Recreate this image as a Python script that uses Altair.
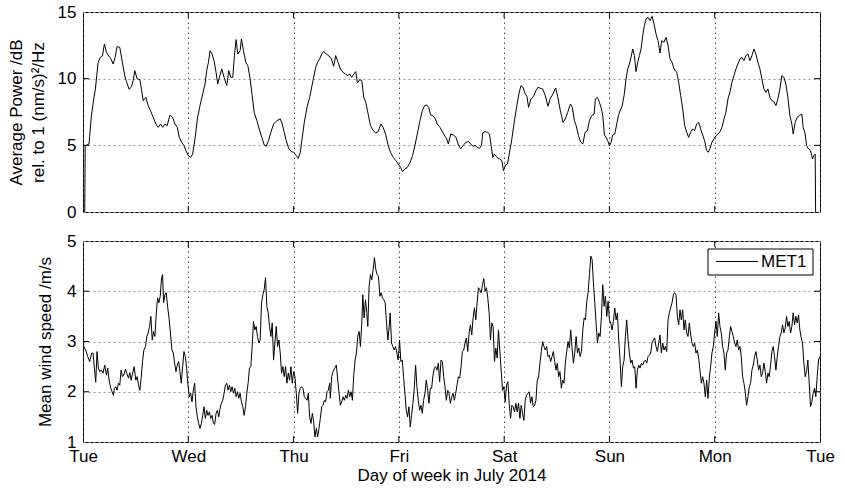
import altair as alt
import pandas as pd

# ---- axis categories -------------------------------------------------------
day_labels = ["Tue", "Wed", "Thu", "Fri", "Sat", "Sun", "Mon", "Tue"]
day_ticks = [0, 24, 48, 72, 96, 120, 144, 168]          # hours since Tue 00:00
power_ticks = [0, 5, 10, 15]
wind_ticks = [1, 2, 3, 4, 5]

# ---- seismic average power (dB rel. 1 (nm/s)^2/Hz) -------------------------
power_hours = [
    0.40, 0.50, 1.37, 1.91, 2.44, 2.82, 3.43, 3.96, 4.42, 4.88,
    5.34, 5.87, 6.33, 6.86, 7.32, 7.77, 8.38, 8.99, 9.53, 9.91,
    10.52, 11.05, 11.43, 11.81, 12.35, 12.96, 13.34, 13.72, 14.33, 14.86,
    15.39, 16.0, 16.61, 17.15, 17.68, 18.14, 18.67, 19.2, 19.81, 20.42,
    20.96, 21.49, 21.95, 22.48, 23.01, 23.47, 24.0, 24.54, 25.0, 25.53,
    26.06, 26.67, 27.28, 27.82, 28.2, 28.58, 28.96, 29.42, 29.87, 30.33,
    30.71, 31.09, 31.63, 32.16, 32.77, 33.23, 33.68, 34.14, 34.52, 34.9,
    35.28, 35.82, 36.12, 36.58, 37.11, 37.57, 38.1, 38.56, 39.02, 39.63,
    40.16, 40.77, 41.3, 41.76, 42.29, 42.83, 43.44, 44.2, 44.96, 45.42,
    45.87, 46.33, 46.87, 47.47, 48.0, 48.62, 49.07, 49.53, 49.99, 50.45,
    51.06, 51.67, 52.2, 52.58, 53.04, 53.49, 53.95, 54.41, 54.87, 55.48,
    56.08, 56.61, 57.15, 57.6, 58.14, 58.67, 59.28, 59.81, 60.35, 60.8,
    61.26, 61.72, 62.18, 62.56, 63.09, 63.55, 64.0, 64.46, 65.0, 65.53,
    66.14, 66.75, 67.28, 67.89, 68.42, 69.03, 69.57, 70.1, 70.71, 71.32,
    71.85, 72.39, 72.84, 73.38, 73.91, 74.52, 75.13, 75.66, 76.2, 76.81,
    77.34, 77.87, 78.33, 78.79, 79.24, 79.7, 80.24, 80.77, 81.38, 81.99,
    82.52, 82.9, 83.28, 83.82, 84.43, 85.04, 85.57, 86.1, 86.71, 87.32,
    87.93, 88.39, 88.85, 89.38, 89.91, 90.37, 90.83, 91.13, 91.67, 92.2,
    92.66, 93.04, 93.42, 93.8, 94.33, 94.94, 95.48, 95.86, 96.31, 96.77,
    97.23, 97.76, 98.29, 98.9, 99.36, 99.82, 100.28, 100.81, 101.19, 101.57,
    102.1, 102.71, 103.25, 103.7, 104.24, 104.77, 105.38, 105.99, 106.52, 107.13,
    107.74, 108.2, 108.81, 109.42, 109.95, 110.49, 111.1, 111.55, 112.01,
    112.41, 112.94, 113.47, 113.93, 114.46, 114.99, 115.44, 115.97, 116.51, 116.81,
    117.26, 117.72, 118.18, 118.48, 118.86, 119.24, 119.62, 120.0, 120.38, 120.76,
    121.21, 121.67, 122.05, 122.43, 122.88, 123.34, 123.79, 124.17, 124.55, 124.93,
    125.31, 125.69, 126.07, 126.45, 126.83, 127.21, 127.59, 127.97, 128.35, 128.8,
    129.26, 129.71, 130.17, 130.62, 131.08, 131.53, 131.91, 132.44, 132.9, 133.36,
    133.81, 134.27, 134.72, 135.33, 135.78, 136.24, 136.7, 137.15, 137.61, 138.06,
    138.52, 138.97, 139.43, 139.88, 140.34, 140.79, 141.25, 141.7, 142.16, 142.54,
    142.92, 143.37, 143.83, 144.29, 144.74, 145.2, 145.65, 146.11, 146.56, 147.02,
    147.47, 147.93, 148.38, 148.84, 149.29, 149.75, 150.21, 150.66, 151.12, 151.57,
    152.03, 152.48, 152.94, 153.39, 153.85, 154.3, 154.76, 155.21, 155.67, 156.13,
    156.58, 157.04, 157.49, 157.95, 158.4, 158.86, 159.31, 159.77, 160.22, 160.68,
    161.14, 161.59, 161.89, 162.35, 162.8, 163.26, 163.87, 164.17, 164.63, 164.93,
    165.39, 165.84, 166.3, 166.6, 166.9, 167.0,
]
power_db = [
    0.0, 4.95, 5.1, 7.2, 8.47, 9.2, 11.2, 11.6, 11.7, 12.6,
    11.98, 11.7, 11.5, 11.1, 11.6, 12.4, 12.35, 11.2, 10.2, 9.78,
    9.2, 9.4, 9.85, 10.6, 9.98, 9.93, 9.2, 8.35, 8.6, 7.98,
    7.6, 7.1, 6.6, 6.35, 6.6, 6.35, 6.6, 6.48, 7.27, 7.1,
    6.6, 6.35, 5.6, 5.23, 4.98, 4.6, 4.23, 4.1, 4.35, 5.48,
    6.98, 7.98, 8.85, 9.6, 10.6, 11.2, 12.1, 11.85, 11.35, 10.48,
    9.6, 10.1, 10.73, 10.1, 9.48, 10.6, 10.1, 10.1, 11.73, 12.93,
    11.85, 12.1, 12.98, 12.1, 11.23, 10.98, 9.98, 8.73, 7.48, 6.85,
    6.23, 5.6, 5.03, 4.93, 5.35, 5.98, 6.6, 6.85, 6.98, 6.6,
    5.98, 5.35, 4.78, 4.53, 4.48, 4.23, 4.03, 4.48, 5.6, 6.73,
    7.85, 8.6, 9.48, 10.1, 10.85, 11.23, 11.48, 11.85, 12.03, 11.85,
    11.7, 11.48, 10.93, 11.73, 11.23, 10.73, 10.48, 10.35, 10.23, 10.35,
    10.1, 10.35, 10.53, 9.68, 9.93, 9.85, 8.6, 8.23, 7.35, 6.48,
    6.1, 5.93, 6.03, 6.6, 6.35, 5.78, 4.98, 4.48, 4.1, 3.85,
    3.6, 3.35, 3.03, 3.23, 3.35, 3.68, 4.23, 4.98, 5.85, 6.85,
    7.6, 7.98, 8.03, 7.85, 7.28, 7.23, 7.03, 6.6, 6.35, 5.98,
    5.68, 5.48, 5.1, 5.85, 5.78, 5.6, 5.03, 4.73, 5.03, 5.23,
    5.28, 5.1, 4.93, 4.98, 4.85, 4.78, 4.98, 5.93, 6.03, 5.98,
    5.85, 4.98, 4.1, 4.35, 4.1, 3.98, 3.85, 3.1, 3.53, 3.6,
    4.48, 5.48, 6.73, 7.98, 8.85, 9.48, 9.35, 8.85, 8.68, 7.85,
    8.48, 8.68, 9.1, 9.35, 9.28, 9.23, 8.73, 7.93, 8.53, 8.85,
    9.3, 8.68, 7.6, 6.73, 6.98, 7.48, 8.1, 7.85, 6.85,
    6.48, 5.73, 5.23, 5.1, 5.98, 6.1, 6.85, 7.23, 7.35, 8.48,
    8.6, 8.23, 7.73, 7.23, 5.78, 5.6, 5.35, 4.98, 5.23, 5.78,
    5.85, 6.6, 7.23, 7.6, 7.93, 8.73, 9.98, 10.73, 11.1, 11.6,
    12.23, 11.73, 10.53, 11.23, 11.73, 12.23, 13.23, 13.98, 14.48, 14.6,
    14.35, 14.68, 14.1, 13.35, 12.85, 11.93, 12.85, 12.73, 13.1, 12.48,
    11.48, 11.23, 10.73, 10.48, 9.73, 8.73, 7.73, 6.48, 5.98, 5.6,
    5.98, 6.23, 6.1, 6.6, 6.73, 6.23, 5.78, 5.35, 4.6, 4.48,
    4.78, 5.23, 5.48, 5.73, 5.85, 6.03, 6.35, 6.98, 7.48, 8.48,
    8.98, 9.73, 10.23, 10.73, 11.1, 11.48, 11.6, 11.35, 11.73, 11.85,
    11.35, 11.73, 12.23, 11.85, 11.23, 10.73, 9.98, 9.23, 8.98, 9.23,
    8.6, 8.35, 8.28, 7.98, 8.48, 9.23, 10.23, 10.1, 9.6, 8.6,
    7.23, 6.6, 5.85, 6.73, 7.1, 7.23, 7.35, 6.35, 5.85, 4.98,
    4.73, 4.6, 3.98, 4.23, 4.35, 0.0,
]

# ---- mean wind speed at MET1 (m/s) -----------------------------------------
wind_hours = [
    0.0, 0.15, 0.61, 1.07, 1.53, 1.98, 2.29, 2.59, 2.9, 3.2,
    3.51, 3.81, 4.19, 4.57, 4.96, 5.34, 5.64, 5.95, 6.33, 6.63,
    6.94, 7.16, 7.47, 7.77, 8.08, 8.38, 8.69, 8.99, 9.3, 9.68,
    9.98, 10.37, 10.67, 10.97, 11.28, 11.66, 12.04, 12.35, 12.65, 12.96,
    13.26, 13.57, 13.87, 14.25, 14.56, 14.86, 15.17, 15.47, 15.78, 16.08,
    16.39, 16.69, 17.0, 17.3, 17.6, 17.91, 18.14, 18.37, 18.67, 18.98,
    19.28, 19.66, 19.97, 20.27, 20.58, 20.88, 21.19, 21.49, 21.8, 22.1,
    22.4, 22.71, 23.01, 23.32, 23.62, 23.93, 24.23, 24.54, 24.84, 25.15,
    25.45, 25.76, 26.06, 26.37, 26.67, 26.98, 27.28, 27.59, 27.89, 28.2,
    28.5, 28.81, 29.11, 29.42, 29.72, 30.02, 30.33, 30.63, 30.94, 31.24,
    31.55, 31.85, 32.16, 32.46, 32.77, 33.07, 33.38, 33.68, 33.99, 34.29,
    34.6, 34.9, 35.21, 35.51, 35.82, 36.12, 36.43, 36.73, 37.04, 37.34,
    37.64, 37.95, 38.25, 38.56, 38.86, 39.17, 39.47, 39.78, 40.08, 40.39,
    40.69, 41.0, 41.3, 41.61, 41.91, 42.22, 42.52, 42.83, 43.13, 43.44,
    43.74, 44.05, 44.35, 44.66, 44.96, 45.26, 45.57, 45.87, 46.18, 46.48,
    46.79, 47.09, 47.4, 47.7, 48.01, 48.31, 48.62, 48.92, 49.23, 49.53,
    49.84, 50.14, 50.45, 50.75, 51.06, 51.36, 51.67, 51.97, 52.28, 52.58,
    52.88, 53.19, 53.49, 53.8, 54.1, 54.41, 54.71, 55.02, 55.32, 55.63,
    55.93, 56.24,
    56.38, 56.69, 56.99, 57.38, 57.76, 58.06, 58.37, 58.67, 58.98, 59.28,
    59.58, 59.89, 60.19, 60.5, 60.8, 61.11, 61.41, 61.72, 62.02, 62.33,
    62.63, 62.94, 63.24, 63.55, 63.78, 64.08, 64.39, 64.69, 64.92, 65.22,
    65.53, 65.83, 66.14, 66.44, 66.75, 67.05, 67.36, 67.66, 67.97, 68.27,
    68.58, 68.88, 69.19, 69.49, 69.8, 70.02, 70.33, 70.63, 70.94, 71.24,
    71.55, 71.85, 72.16, 72.46, 72.77, 73.07, 73.38, 73.68, 73.99, 74.29,
    74.6, 74.9, 75.21, 75.51, 75.82, 76.12, 76.43, 76.73, 77.03, 77.34,
    77.64, 77.95, 78.25, 78.56, 78.86, 79.17, 79.47, 79.78, 80.08, 80.39,
    80.69, 81.0, 81.3, 81.61, 81.91, 82.22, 82.52, 82.83, 83.13, 83.44,
    83.74, 84.05, 84.35, 84.65, 84.96, 85.26, 85.57, 85.87, 86.18, 86.48,
    86.79, 87.09, 87.4, 87.7, 88.01, 88.31, 88.62, 88.92, 89.23, 89.53,
    89.84, 90.14, 90.45, 90.75, 91.06, 91.36, 91.67, 91.97, 92.27, 92.58,
    92.88, 93.19, 93.49, 93.8, 94.1, 94.41, 94.71, 95.02, 95.32, 95.63,
    95.93, 96.24, 96.54, 96.85, 97.15, 97.46, 97.76, 98.07, 98.37, 98.68,
    98.98, 99.29, 99.59, 99.89, 100.2, 100.5, 100.81, 101.11, 101.42, 101.72,
    102.03, 102.33, 102.64, 102.94, 103.25, 103.55, 103.86, 104.16, 104.47, 104.77,
    105.08, 105.38, 105.69, 105.99, 106.3, 106.6, 106.91, 107.21, 107.51, 107.82,
    108.12, 108.43, 108.73, 109.04, 109.34, 109.65, 109.95, 110.26, 110.56, 110.87,
    111.17, 111.48, 111.78, 112.09,
    112.41, 112.71, 113.01, 113.32, 113.62, 113.93, 114.23, 114.53, 114.84, 115.14,
    115.44, 115.75, 116.05, 116.35, 116.66, 116.96, 117.26, 117.57, 117.87, 118.18,
    118.48, 118.78, 119.09, 119.39, 119.69, 120.0, 120.3, 120.6, 120.91, 121.21,
    121.52, 121.82, 122.12, 122.43, 122.73, 123.03, 123.34, 123.64, 123.94, 124.25,
    124.55, 124.85, 125.16, 125.46, 125.77, 126.07, 126.37, 126.68, 126.98, 127.28,
    127.59, 127.89, 128.19, 128.5, 128.8, 129.11, 129.41, 129.71, 130.02, 130.32,
    130.62, 130.93, 131.23, 131.53, 131.84, 132.14, 132.44, 132.75, 133.05, 133.36,
    133.66, 133.96, 134.27, 134.57, 134.87, 135.18, 135.48, 135.78, 136.09, 136.39,
    136.7, 137.0, 137.3, 137.61, 137.91, 138.21, 138.52, 138.82, 139.12, 139.43,
    139.73, 140.03, 140.34, 140.64, 140.95, 141.25, 141.55, 141.86, 142.16, 142.46,
    142.77, 143.07, 143.37, 143.68, 143.98, 144.29, 144.59, 144.89, 145.2, 145.5,
    145.8, 146.11, 146.41, 146.71, 147.02, 147.32, 147.62, 147.93, 148.23, 148.54,
    148.84, 149.14, 149.45, 149.75, 150.05, 150.36, 150.66, 150.96, 151.27, 151.57,
    151.88, 152.18, 152.48, 152.79, 153.09, 153.39, 153.7, 154.0, 154.3, 154.61,
    154.91, 155.21, 155.52, 155.82, 156.13, 156.43, 156.73, 157.04, 157.34, 157.64,
    157.95, 158.25, 158.55, 158.86, 159.16, 159.47, 159.77, 160.07, 160.38, 160.68,
    160.98, 161.29, 161.59, 161.89, 162.2, 162.5, 162.8, 163.11, 163.41, 163.72,
    164.02, 164.32, 164.63, 164.93, 165.23, 165.54, 165.84, 166.14, 166.45, 166.75,
    167.05, 167.36, 167.66, 167.96,
]
wind_speed = [
    3.2, 2.9, 2.83, 2.7, 2.6, 2.77, 2.77, 2.47, 2.19, 2.8,
    2.47, 2.4, 2.43, 2.37, 2.53, 2.33, 2.47, 2.23, 2.07, 2.0,
    1.93, 2.07, 2.1, 2.03, 2.17, 2.13, 2.43, 2.3, 2.33, 2.45,
    2.37, 2.27, 2.38, 2.23, 2.35, 2.5, 2.23, 2.3, 2.13, 2.03,
    2.27, 2.6, 2.83, 2.9, 3.1, 3.17, 3.3, 3.5, 3.03, 3.2,
    3.1, 3.53, 3.87, 3.77, 3.9, 4.27, 4.33, 3.77, 3.93, 3.97,
    3.7, 3.43, 3.13, 2.83, 2.77, 2.57, 2.4, 2.53, 2.6, 2.4,
    2.17, 2.5, 2.8, 2.7, 2.47, 2.13, 1.9, 1.97, 1.8, 2.03,
    2.17, 1.7, 1.5, 1.37, 1.27, 1.37, 1.53, 1.7, 1.47, 1.63,
    1.53, 1.6, 1.47, 1.53, 1.37, 1.35, 1.57, 1.63, 1.5, 1.67,
    1.77, 1.83, 1.97, 2.13, 2.17, 2.03, 2.13, 2.0, 2.1, 1.97,
    2.07, 1.9, 2.0, 1.87, 1.97, 1.8, 1.7, 1.53, 1.7, 1.97,
    2.17, 2.47, 2.5, 2.9, 3.4, 3.23, 3.3, 3.1, 2.97, 3.03,
    3.77, 3.93, 4.03, 4.27, 3.7, 3.57, 3.3, 3.1, 3.37, 2.63,
    2.97, 3.3, 2.9, 3.03, 2.77, 2.37, 2.5, 2.3, 2.5, 2.17,
    2.37, 2.23, 2.5, 2.17, 2.4, 2.3, 1.97, 1.57, 1.97, 2.07,
    2.1, 2.07, 1.9, 1.87, 1.83, 1.97, 1.5, 1.37, 1.57, 1.4,
    1.1, 1.27, 1.1, 1.27, 1.47, 1.7, 1.73, 1.83, 1.8, 2.0,
    2.03, 2.17,
    1.87, 2.3, 2.4, 2.47, 2.53, 2.23, 1.97, 1.73, 1.8, 1.9,
    1.83, 1.93, 1.87, 2.03, 1.9, 2.0, 1.83, 2.33, 2.63, 2.77,
    3.1, 3.2, 2.9, 3.37, 3.93, 3.47, 3.83, 3.57, 3.3, 4.1,
    4.33, 4.23, 4.43, 4.67, 4.43, 4.33, 4.3, 3.9, 3.97, 3.87,
    3.83, 3.77, 3.37, 3.03, 3.3, 3.57, 2.97, 2.9, 2.83, 2.9,
    2.77, 2.63, 3.03, 2.6, 2.63, 2.3, 1.97, 1.63, 1.5, 1.7,
    1.3, 1.53, 1.77, 2.07, 2.53, 2.1, 1.83, 1.63, 1.73, 1.57,
    1.83, 1.97, 2.23, 2.03, 1.77, 2.07, 2.07, 2.33, 2.47, 2.5,
    2.43, 2.57, 2.2, 2.63, 2.6, 2.3, 2.1, 1.83, 2.03, 1.97,
    1.77, 1.9, 1.97, 1.83, 1.97, 2.13, 2.3, 2.27, 2.5, 2.8,
    2.83, 2.97, 3.07, 2.8, 3.17, 3.33, 3.13, 3.47, 3.67, 3.43,
    3.77, 4.07, 4.03, 3.97, 4.13, 4.25, 4.0, 4.07, 3.87, 3.57,
    3.03, 3.37, 3.3, 2.6, 2.87, 2.67, 3.23, 2.8, 2.43, 2.03,
    2.1, 1.8, 2.13, 2.2, 1.77, 1.47, 1.73, 1.7, 1.6, 1.77,
    1.6, 1.77, 1.47, 1.73, 1.57, 1.43, 1.83, 1.93, 1.97, 2.0,
    1.77, 1.9, 1.7, 1.73, 1.83, 2.23, 2.3, 2.57, 2.8, 3.0,
    2.9, 2.83, 2.9, 2.7, 2.73, 2.6, 2.7, 2.8, 2.6, 2.43,
    2.57, 2.3, 2.4, 2.07, 2.23, 2.17, 2.57, 2.8, 3.0, 2.87,
    3.23, 2.87, 2.57, 2.77,
    3.1, 2.77, 2.87, 2.7, 2.8, 3.23, 3.47, 3.43, 3.8, 3.97,
    4.33, 4.7, 4.63, 4.17, 3.77, 3.37, 2.97, 3.17, 3.1, 3.5,
    4.13, 3.7, 3.9, 3.5, 3.8, 3.43, 3.37, 3.23, 3.4, 3.67,
    3.43, 3.57, 3.03, 2.63, 2.1, 2.5, 2.63, 3.1, 3.43, 3.03,
    2.77, 2.57, 2.63, 2.47, 2.5, 2.07, 2.43, 2.53, 2.47, 2.57,
    2.53, 2.6, 2.63, 2.57, 2.7, 2.73, 2.77, 2.97, 3.03, 3.07,
    2.9, 2.8, 2.97, 3.13, 2.77, 2.97, 2.83, 2.9, 2.8, 3.43,
    3.57, 3.67, 3.77, 3.93, 3.97, 3.93, 3.5, 3.33, 3.63, 3.43,
    3.63, 3.23, 3.43, 3.17, 3.1, 3.37, 3.13, 2.97, 2.9, 2.97,
    2.77, 2.83, 2.67, 2.43, 2.17, 2.3, 2.17, 1.9, 2.23, 1.87,
    2.27, 2.5, 2.77, 2.9, 3.17, 3.4, 3.1, 3.57, 3.3, 3.17,
    2.9, 2.77, 2.43, 2.77, 2.83, 3.07, 3.3, 3.2, 3.1, 2.97,
    2.9, 3.03, 2.83, 2.9, 2.7, 2.3, 2.17, 2.0, 1.73, 1.9,
    2.1, 2.17, 2.43, 2.53, 2.7, 2.8, 2.63, 2.43, 2.53, 2.3,
    2.37, 2.57, 2.4, 2.17, 2.37, 2.3, 2.53, 2.8, 2.9, 2.7,
    2.43, 2.7, 2.9, 3.1, 3.17, 3.33, 3.17, 3.27, 3.5, 3.3,
    3.4, 3.17, 3.3, 3.57, 3.33, 3.5, 3.37, 3.53, 3.23, 3.07,
    2.97, 2.57, 2.3, 2.4, 2.63, 2.17, 1.7, 1.8, 1.97, 2.07,
    1.9, 2.3, 2.63, 2.7,
]
station = "MET1"

# ---- styling ---------------------------------------------------------------
FONT = "Liberation Sans"
FS = 17
PW = 737           # panel width
TOP_H = 200
BOT_H = 201
TICK = 6           # inward tick length

label_expr = "[" + ",".join(f"'{d}'" for d in day_labels) + "][round(datum.value / 24)]"
x_scale = alt.Scale(domain=[0, 168], nice=False, zero=False)


def x_axis(show_labels):
    kw = dict(values=day_ticks, grid=True, gridColor="#444", gridDash=[1.5, 3.5],
              ticks=False, domain=False)
    if show_labels:
        kw.update(labelExpr=label_expr, title="Day of week in July 2014",
                  labelPadding=6, titlePadding=3, labelFlush=False)
    else:
        kw.update(labels=False, title=None)
    return alt.Axis(**kw)


def y_axis(values, title, title_x, title_y):
    return alt.Axis(values=values, grid=True, gridColor="#9a9a9a", gridDash=[2, 3],
                    ticks=False, domain=False, labelPadding=7, title=title,
                    titleX=title_x, titleY=title_y, titleAngle=-90,
                    titleAlign="center", titleBaseline="alphabetic",
                    titleLineHeight=22)


def inward_ticks(xfield, yfield, xvals, yvals, xenc_axis, yscale, yaxis, height):
    """Short inward tick marks on all four sides of a panel."""
    xdf = pd.DataFrame({xfield: xvals})
    ydf = pd.DataFrame({yfield: yvals})
    xe = alt.X(f"{xfield}:Q", scale=x_scale, axis=xenc_axis)
    ye = alt.Y(f"{yfield}:Q", scale=yscale, axis=yaxis)
    base_x = alt.Chart(xdf).mark_rule(color="black", strokeWidth=1)
    base_y = alt.Chart(ydf).mark_rule(color="black", strokeWidth=1)
    return [
        base_x.encode(x=xe, y=alt.value(height), y2=alt.value(height - TICK)),
        base_x.encode(x=xe, y=alt.value(0), y2=alt.value(TICK)),
        base_y.encode(y=ye, x=alt.value(0), x2=alt.value(TICK)),
        base_y.encode(y=ye, x=alt.value(PW), x2=alt.value(PW - TICK)),
    ]


# ---- top panel: average seismic power --------------------------------------
power_df = pd.DataFrame({"hour": power_hours, "db": power_db})
p_scale = alt.Scale(domain=[0, 15], nice=False, zero=False)
p_axis = y_axis(power_ticks, ["Average Power /dB", "rel. to 1 (nm/s)\u00b2/Hz"], -62, TOP_H / 2)
top_xaxis = x_axis(False)

power_line = alt.Chart(power_df).mark_line(color="black", strokeWidth=1, clip=True).encode(
    x=alt.X("hour:Q", scale=x_scale, axis=top_xaxis),
    y=alt.Y("db:Q", scale=p_scale, axis=p_axis),
)
top = alt.layer(
    power_line,
    *inward_ticks("hour", "db", day_ticks[1:-1], power_ticks[1:-1], top_xaxis, p_scale, p_axis, TOP_H),
).properties(width=PW, height=TOP_H)

# ---- bottom panel: mean wind speed -----------------------------------------
wind_df = pd.DataFrame({"hour": wind_hours, "speed": wind_speed})
w_scale = alt.Scale(domain=[1, 5], nice=False, zero=False)
w_axis = y_axis(wind_ticks, "Mean wind speed /m/s", -33, BOT_H / 2)
bot_xaxis = x_axis(True)

wind_line = alt.Chart(wind_df).mark_line(color="black", strokeWidth=1, clip=True).encode(
    x=alt.X("hour:Q", scale=x_scale, axis=bot_xaxis),
    y=alt.Y("speed:Q", scale=w_scale, axis=w_axis),
)

# legend box in the upper-right corner of the wind panel
legend_df = pd.DataFrame({"sensor": [station]})
legend_box = alt.Chart(legend_df).mark_rect(fill="white", stroke="black", strokeWidth=1).encode(
    x=alt.value(625), x2=alt.value(730), y=alt.value(8), y2=alt.value(34)
)
legend_line = alt.Chart(legend_df).mark_rule(color="black", strokeWidth=1).encode(
    x=alt.value(633), x2=alt.value(675), y=alt.value(20.5)
)
legend_text = alt.Chart(legend_df).mark_text(
    font=FONT, fontSize=FS, align="left", baseline="middle", color="black"
).encode(x=alt.value(678), y=alt.value(21), text="sensor:N")

bottom = alt.layer(
    wind_line,
    *inward_ticks("hour", "speed", day_ticks[1:-1], wind_ticks[1:-1], bot_xaxis, w_scale, w_axis, BOT_H),
    legend_box, legend_line, legend_text,
).properties(width=PW, height=BOT_H)

chart = (
    alt.vconcat(top, bottom, spacing=29, bounds="flush")
    .properties(padding={"left": 6, "top": 2, "right": 5, "bottom": 2}, background="white")
    .configure_view(stroke="black", strokeWidth=1)
    .configure_axis(labelFont=FONT, titleFont=FONT, labelFontSize=FS, titleFontSize=FS,
                    titleFontWeight="normal", labelColor="black", titleColor="black",
                    gridOpacity=1)
)

chart.save("out.html", embed_options={"renderer": "svg", "actions": False})
